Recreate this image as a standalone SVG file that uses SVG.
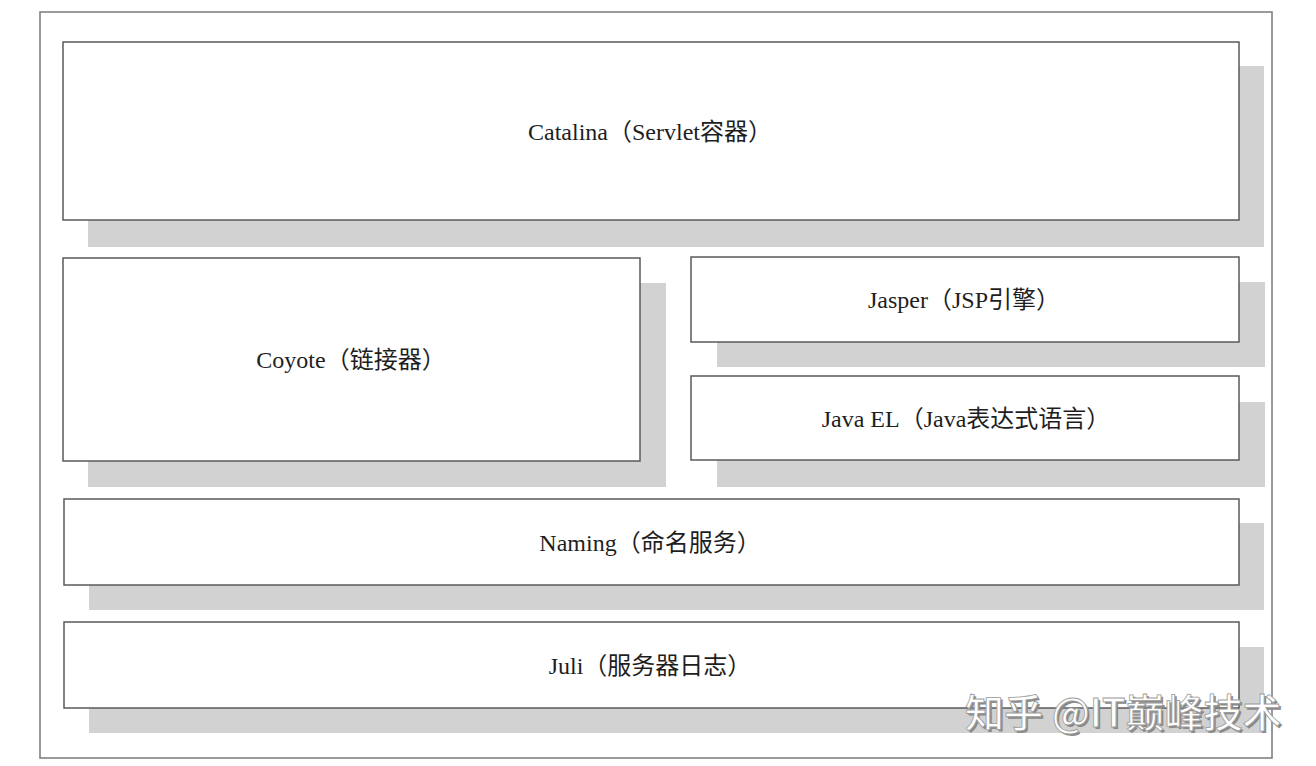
<svg xmlns="http://www.w3.org/2000/svg" width="1316" height="766" viewBox="0 0 1316 766">
<defs>
<style>
.frame{fill:none;stroke:#7a7a7a;stroke-width:1.5}
.box{fill:#ffffff;stroke:#5a5a5a;stroke-width:1.5}
.shadow{fill:#d2d2d2}
.lbl{font-family:"Liberation Serif","Noto Sans CJK SC",serif;font-size:24px;fill:#1e1e1e;text-anchor:middle}
.wm{font-family:"Noto Sans CJK SC","Noto Sans",sans-serif;font-size:39px;font-weight:500}
</style>
</defs>
<rect width="1316" height="766" fill="#ffffff"/>
<rect class="frame" x="40" y="12" width="1232" height="746"/>
<g id="shadows">
<rect class="shadow" x="88" y="66" width="1176" height="181"/>
<rect class="shadow" x="88" y="283" width="578" height="204"/>
<rect class="shadow" x="717" y="282" width="548" height="85"/>
<rect class="shadow" x="717" y="402" width="548" height="85"/>
<rect class="shadow" x="89" y="523" width="1175" height="87"/>
<rect class="shadow" x="89" y="647" width="1175" height="86"/>
</g>
<g id="connectors"></g>
<g id="catalina">
<rect class="box" x="63" y="42" width="1176" height="178"/>
<text class="lbl" x="650" y="140">Catalina（Servlet容器）</text>
</g>
<g id="coyote">
<rect class="box" x="63" y="258" width="577" height="203"/>
<text class="lbl" x="351" y="368">Coyote（链接器）</text>
</g>
<g id="jasper">
<rect class="box" x="691" y="257" width="548" height="85"/>
<text class="lbl" x="964" y="308">Jasper（JSP引擎）</text>
</g>
<g id="javael">
<rect class="box" x="691" y="376" width="548" height="84"/>
<text class="lbl" x="966" y="427">Java EL（Java表达式语言）</text>
</g>
<g id="naming">
<rect class="box" x="64" y="499" width="1175" height="86"/>
<text class="lbl" x="650" y="551">Naming（命名服务）</text>
</g>
<g id="juli">
<rect class="box" x="64" y="622" width="1175" height="86"/>
<text class="lbl" x="650" y="674">Juli（服务器日志）</text>
</g>
<g id="watermark">
<text class="wm" x="967" y="729" fill="#8a8a8a">知乎 @IT巅峰技术</text>
<text class="wm" x="965" y="727" fill="#ffffff" stroke="#9a9a9a" stroke-width="0.8">知乎 @IT巅峰技术</text>
</g>
</svg>
